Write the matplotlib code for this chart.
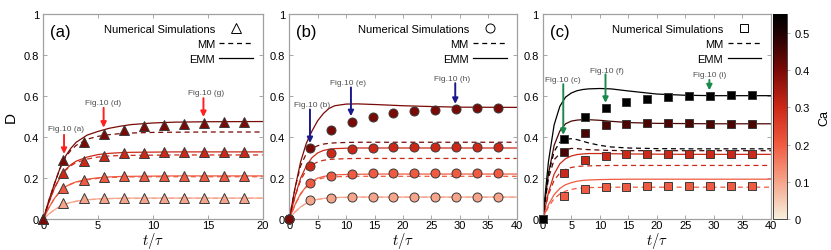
import numpy as np
import matplotlib
matplotlib.use("Agg")
import matplotlib.pyplot as plt
from matplotlib.colors import LinearSegmentedColormap, Normalize
from matplotlib.cm import ScalarMappable
from matplotlib.lines import Line2D

plt.rcParams['font.family'] = ['Liberation Sans', 'DejaVu Sans']
plt.rcParams['mathtext.fontset'] = 'cm'

# ---- data ----
ca_max = 0.55
ca_a = [0.1, 0.2, 0.3, 0.4]
ca_b = [0.1, 0.2, 0.3, 0.4]
ca_c = [0.2, 0.3, 0.45, 0.55]

# simulation markers
t_sim_a = [0, 1.83, 3.67, 5.5, 7.33, 9.17, 11, 12.83, 14.67, 16.5, 18.33]
t_sim_bc = [0, 3.67, 7.33, 11, 14.67, 18.33, 22, 25.67, 29.33, 33, 36.67]

a_sim_1 = [0, 0.08, 0.101, 0.104, 0.104, 0.104, 0.104, 0.104, 0.104, 0.104, 0.104]
a_sim_2 = [0, 0.152, 0.193, 0.204, 0.209, 0.209, 0.21, 0.21, 0.21, 0.21, 0.21]
a_sim_3 = [0, 0.226, 0.286, 0.308, 0.321, 0.324, 0.326, 0.327, 0.327, 0.327, 0.327]
a_sim_4 = [0, 0.29, 0.377, 0.414, 0.435, 0.453, 0.459, 0.465, 0.469, 0.472, 0.475]

b_sim_1 = [0, 0.093, 0.104, 0.108, 0.108, 0.108, 0.108, 0.108, 0.108, 0.108, 0.108]
b_sim_2 = [0, 0.177, 0.212, 0.222, 0.225, 0.225, 0.225, 0.225, 0.225, 0.225, 0.225]
b_sim_3 = [0, 0.26, 0.321, 0.342, 0.348, 0.35, 0.35, 0.35, 0.35, 0.35, 0.35]
b_sim_4 = [0, 0.345, 0.433, 0.475, 0.499, 0.518, 0.526, 0.533, 0.539, 0.541, 0.543]

c_sim_1 = [0, 0.114, 0.148, 0.157, 0.159, 0.16, 0.16, 0.16, 0.16, 0.16, 0.16]
c_sim_2 = [0, 0.226, 0.29, 0.31, 0.316, 0.316, 0.316, 0.316, 0.316, 0.316, 0.316]
c_sim_3 = [0, 0.326, 0.42, 0.457, 0.464, 0.467, 0.469, 0.467, 0.466, 0.465, 0.465]
c_sim_4 = [0, 0.392, 0.498, 0.543, 0.57, 0.587, 0.595, 0.6, 0.602, 0.605, 0.604]

# model curves
t_mod_a = [0, 0.5, 1, 1.5, 2, 2.5, 3, 4, 5, 6, 7, 8, 10, 12, 15, 20]
t_mod_bc = [0, 1, 2, 3, 4, 5, 6, 7, 8, 10, 12, 15, 20, 25, 30, 40]

a_emm_1 = [0, 0.025, 0.045, 0.062, 0.074, 0.082, 0.088, 0.095, 0.099, 0.101, 0.102, 0.103, 0.103, 0.103, 0.103, 0.103]
a_mm_1 = [0, 0.025, 0.045, 0.061, 0.073, 0.081, 0.087, 0.094, 0.098, 0.1, 0.101, 0.101, 0.102, 0.102, 0.102, 0.102]
a_emm_2 = [0, 0.055, 0.1, 0.135, 0.158, 0.172, 0.182, 0.195, 0.202, 0.206, 0.208, 0.209, 0.21, 0.211, 0.211, 0.211]
a_mm_2 = [0, 0.055, 0.1, 0.133, 0.155, 0.17, 0.18, 0.192, 0.199, 0.203, 0.205, 0.206, 0.207, 0.207, 0.207, 0.207]
a_emm_3 = [0, 0.08, 0.15, 0.2, 0.24, 0.265, 0.283, 0.303, 0.315, 0.321, 0.324, 0.326, 0.327, 0.328, 0.328, 0.328]
a_mm_3 = [0, 0.08, 0.15, 0.2, 0.237, 0.26, 0.276, 0.293, 0.303, 0.308, 0.31, 0.311, 0.312, 0.313, 0.313, 0.313]
a_emm_4 = [0, 0.09, 0.17, 0.245, 0.305, 0.345, 0.375, 0.41, 0.428, 0.443, 0.453, 0.461, 0.469, 0.473, 0.475, 0.476]
a_mm_4 = [0, 0.09, 0.17, 0.245, 0.3, 0.335, 0.36, 0.39, 0.404, 0.412, 0.417, 0.42, 0.423, 0.424, 0.425, 0.425]

b_emm_1 = [0, 0.035, 0.06, 0.078, 0.09, 0.097, 0.101, 0.104, 0.106, 0.107, 0.108, 0.108, 0.108, 0.108, 0.108, 0.108]
b_mm_1 = [0, 0.035, 0.06, 0.077, 0.089, 0.096, 0.1, 0.103, 0.105, 0.106, 0.107, 0.107, 0.107, 0.107, 0.107, 0.107]
b_emm_2 = [0, 0.07, 0.125, 0.16, 0.185, 0.2, 0.208, 0.213, 0.216, 0.218, 0.219, 0.22, 0.22, 0.22, 0.22, 0.22]
b_mm_2 = [0, 0.07, 0.122, 0.157, 0.18, 0.194, 0.201, 0.205, 0.207, 0.208, 0.209, 0.209, 0.209, 0.209, 0.209, 0.209]
b_emm_3 = [0, 0.11, 0.2, 0.26, 0.3, 0.323, 0.335, 0.341, 0.344, 0.346, 0.347, 0.347, 0.347, 0.347, 0.347, 0.347]
b_mm_3 = [0, 0.11, 0.19, 0.24, 0.265, 0.279, 0.287, 0.291, 0.293, 0.295, 0.296, 0.296, 0.296, 0.296, 0.296, 0.296]
b_emm_4 = [0, 0.15, 0.28, 0.37, 0.43, 0.48, 0.515, 0.54, 0.553, 0.561, 0.562, 0.559, 0.553, 0.549, 0.546, 0.545]
b_mm_4 = [0, 0.15, 0.26, 0.32, 0.345, 0.358, 0.366, 0.37, 0.372, 0.374, 0.375, 0.375, 0.375, 0.375, 0.375, 0.375]

c_emm_1 = [0, 0.07, 0.12, 0.15, 0.168, 0.178, 0.185, 0.189, 0.191, 0.193, 0.194, 0.195, 0.195, 0.195, 0.195, 0.195]
c_mm_1 = [0, 0.06, 0.1, 0.123, 0.137, 0.145, 0.15, 0.152, 0.154, 0.155, 0.156, 0.156, 0.156, 0.156, 0.156, 0.156]
c_emm_2 = [0, 0.13, 0.22, 0.27, 0.295, 0.308, 0.315, 0.318, 0.32, 0.32, 0.319, 0.318, 0.317, 0.316, 0.316, 0.316]
c_mm_2 = [0, 0.12, 0.19, 0.225, 0.243, 0.252, 0.257, 0.259, 0.26, 0.261, 0.262, 0.262, 0.262, 0.262, 0.262, 0.262]
c_emm_3 = [0, 0.22, 0.36, 0.43, 0.465, 0.478, 0.483, 0.485, 0.485, 0.482, 0.477, 0.471, 0.467, 0.466, 0.465, 0.465]
c_mm_3 = [0, 0.2, 0.29, 0.32, 0.338, 0.345, 0.344, 0.341, 0.339, 0.337, 0.335, 0.334, 0.334, 0.334, 0.334, 0.334]
c_emm_4 = [0, 0.28, 0.46, 0.55, 0.595, 0.615, 0.626, 0.632, 0.635, 0.637, 0.635, 0.625, 0.61, 0.604, 0.602, 0.602]
c_mm_4 = [0, 0.22, 0.33, 0.375, 0.39, 0.392, 0.388, 0.38, 0.372, 0.36, 0.352, 0.347, 0.344, 0.343, 0.343, 0.343]

# arrows "Fig.10 (x)": label, x of arrow, arrow top, arrow tip, text x, text y
notes_a = [("Fig.10 (a)", 1.89, 0.411, 0.318, 2.05, 0.441),
           ("Fig.10 (d)", 5.5, 0.543, 0.446, 5.47, 0.57),
           ("Fig.10 (g)", 14.6, 0.59, 0.498, 14.83, 0.618)]
notes_b = [("Fig.10 (b)", 3.64, 0.535, 0.371, 4.05, 0.559),
           ("Fig.10 (e)", 10.85, 0.642, 0.502, 10.38, 0.666),
           ("Fig.10 (h)", 29.2, 0.663, 0.562, 28.7, 0.684)]
notes_c = [("Fig.10 (c)", 3.6, 0.658, 0.411, 3.5, 0.679),
           ("Fig.10 (f)", 11.0, 0.706, 0.567, 11.2, 0.727),
           ("Fig.10 (i)", 29.2, 0.679, 0.628, 29.3, 0.706)]

yticks = [0, 0.2, 0.4, 0.6, 0.8, 1]
ytick_labels = ['0', '0.2', '0.4', '0.6', '0.8', '1']
cb_ticks = [0, 0.1, 0.2, 0.3, 0.4, 0.5]
cb_labels = ['0', '0.1', '0.2', '0.3', '0.4', '0.5']

cmap = LinearSegmentedColormap.from_list("ca", [
    (0.0, '#f7f0dc'), (0.182, '#f6a48a'), (0.364, '#f05a40'),
    (0.545, '#cc2818'), (0.727, '#7a0a06'), (0.909, '#1e0202'), (1.0, '#000000')])
norm = Normalize(0, ca_max)

fig = plt.figure(figsize=(8.31, 2.51), dpi=100)
ax_a = fig.add_axes([0.0521, 0.1227, 0.264, 0.8175])
ax_b = fig.add_axes([0.3481, 0.1227, 0.2736, 0.8175])
ax_c = fig.add_axes([0.6531, 0.1227, 0.2747, 0.8175])
cax = fig.add_axes([0.9306, 0.1227, 0.0161, 0.8175])


def draw_panel(ax, cas, t_sim, sims, t_mod, emms, mms, marker, msize, notes, arrow_col, xmax, tag):
    for ca, sim, emm, mm in zip(cas, sims, emms, mms):
        col = cmap(norm(ca))
        ax.plot(t_mod, emm, color=col, lw=0.9, zorder=2)
        ax.plot(t_mod, mm, color=col, lw=0.9, ls=(0, (4, 3)), zorder=2)
    for ca, sim in zip(cas, sims):
        col = cmap(norm(ca))
        ax.plot(t_sim, sim, ls='none', marker=marker, ms=msize, mfc=col,
                mec='#3a3a3a', mew=0.7, zorder=3, clip_on=False)
    for label, xa, ytop, ytip, xt, yt in notes:
        ax.annotate('', xy=(xa, ytip), xytext=(xa, ytop),
                    arrowprops=dict(arrowstyle='-|>', color=arrow_col, lw=1.4,
                                    mutation_scale=8, shrinkA=0, shrinkB=0), zorder=4)
        ax.text(xt, yt, label, fontsize=6, color='#505050', ha='center', va='center')
    ax.set_xlim(0, xmax)
    ax.set_ylim(0, 1)
    ax.set_xticks(np.arange(0, xmax + 1, 5))
    ax.set_yticks(yticks)
    ax.set_yticklabels(ytick_labels)
    ax.tick_params(direction='in', length=3, width=0.6, color='#999999',
                   labelsize=8, top=True, right=True, pad=3)
    ax.tick_params(axis='x', pad=0.5)
    for s in ax.spines.values():
        s.set_color('#a0a0a0')
        s.set_linewidth(0.9)
    ax.set_xlabel(r'$t/\tau$', fontsize=10.5, labelpad=0)
    ax.text(0.03, 0.915, tag, transform=ax.transAxes, fontsize=12, va='center', ha='left')
    handles = [Line2D([], [], ls='none', marker=marker, ms=msize, mfc='white', mec='black', mew=0.7),
               Line2D([], [], color='black', lw=0.9, ls=(0, (4, 3))),
               Line2D([], [], color='black', lw=0.9)]
    ax.legend(handles, ['Numerical Simulations', 'MM', 'EMM'], loc='upper right',
              markerfirst=False, frameon=False, fontsize=8, handlelength=3,
              handletextpad=0.4, labelspacing=0.45, borderaxespad=0.5, numpoints=1)


draw_panel(ax_a, ca_a, t_sim_a, [a_sim_1, a_sim_2, a_sim_3, a_sim_4], t_mod_a,
           [a_emm_1, a_emm_2, a_emm_3, a_emm_4], [a_mm_1, a_mm_2, a_mm_3, a_mm_4],
           '^', 7, notes_a, '#ff2020', 20, '(a)')
draw_panel(ax_b, ca_b, t_sim_bc, [b_sim_1, b_sim_2, b_sim_3, b_sim_4], t_mod_bc,
           [b_emm_1, b_emm_2, b_emm_3, b_emm_4], [b_mm_1, b_mm_2, b_mm_3, b_mm_4],
           'o', 6.5, notes_b, '#1a1a8c', 40, '(b)')
draw_panel(ax_c, ca_c, t_sim_bc, [c_sim_1, c_sim_2, c_sim_3, c_sim_4], t_mod_bc,
           [c_emm_1, c_emm_2, c_emm_3, c_emm_4], [c_mm_1, c_mm_2, c_mm_3, c_mm_4],
           's', 6, notes_c, '#1a8a4a', 40, '(c)')

ax_a.set_ylabel('D', fontsize=11, labelpad=4)

cb = fig.colorbar(ScalarMappable(norm=norm, cmap=cmap), cax=cax, ticks=cb_ticks)
cb.ax.set_yticklabels(cb_labels)
cb.ax.tick_params(labelsize=8, length=2, width=0.5, color='#999999')
cb.outline.set_linewidth(0.5)
cb.set_label('Ca', fontsize=9, labelpad=6)

fig.savefig('out.png', dpi=100)
